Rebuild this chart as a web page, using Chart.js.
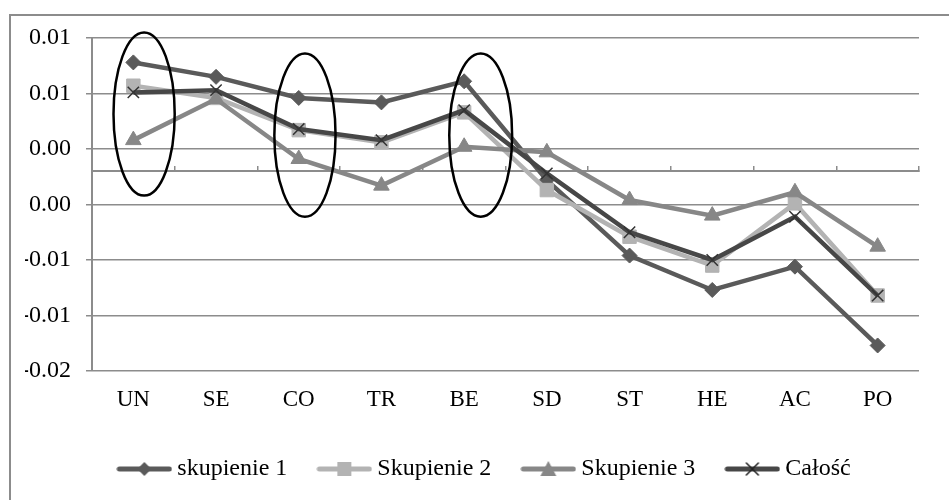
<!DOCTYPE html>
<html>
<head>
<meta charset="utf-8">
<script src="https://cdn.jsdelivr.net/npm/chart.js@4.4.1/dist/chart.umd.min.js"></script>
<style>
  body { margin: 0; overflow: hidden; background: #fff; }
  #frame { position: absolute; left: 9px; top: 14px; width: 960px; height: 500px;
           border-left: 2px solid #8c8c8c; border-top: 2px solid #8c8c8c; }
  #box { position: absolute; left: 0; top: 0; width: 938px; height: 484px; }
</style>
</head>
<body>
<div id="frame"><div id="box"><canvas id="line-chart"></canvas></div></div>
<script>
// data
var categories = ["UN", "SE", "CO", "TR", "BE", "SD", "ST", "HE", "AC", "PO"];
var skupienie1 = [0.0098, 0.0085, 0.0066, 0.0062, 0.0081, -0.0008, -0.0076, -0.0107, -0.0086, -0.0157];
var skupienie2 = [0.0077, 0.0066, 0.0037, 0.0026, 0.0053, -0.0017, -0.0059, -0.0085, -0.0029, -0.0112];
var skupienie3 = [0.0028, 0.0065, 0.0011, -0.0013, 0.0022, 0.0017, -0.0026, -0.0040, -0.0019, -0.0068];
var calosc     = [0.0071, 0.0073, 0.0038, 0.0028, 0.0055, -0.0002, -0.0055, -0.0080, -0.0041, -0.0112];
var seriesNames = ["skupienie 1", "Skupienie 2", "Skupienie 3", "Całość"];
// axis goes from bottom to top
var yTickLabels = ["-0.02", "-0.01", "-0.01", "0.00", "0.00", "0.01", "0.01"];

// hand drawn ovals (category index + y range)
var ellipses = [
  { at: 0, shift: 0.13, halfWidth: 0.37, top: 0.0125, bottom: -0.0022 },
  { at: 2, shift: 0.075, halfWidth: 0.37, top: 0.0106, bottom: -0.0041 },
  { at: 4, shift: 0.2, halfWidth: 0.38, top: 0.0106, bottom: -0.0041 }
];

var FONT = "'Liberation Serif', 'Times New Roman', serif";
var colors = ["#5a5a5a", "#b3b3b3", "#878787", "#474747"];
var styles = ["rectRot", "rect", "triangle", "crossRot"];
var radii = [7.5, 9.5, 9, 8];

function legendIcon(i){
  var c = document.createElement("canvas");
  c.width = 56; c.height = 20;
  var g = c.getContext("2d");
  g.strokeStyle = colors[i];
  g.lineWidth = 5;
  g.lineCap = "round";
  g.beginPath(); g.moveTo(3, 10); g.lineTo(53, 10); g.stroke();
  g.fillStyle = colors[i];
  if (i == 0) {
    g.beginPath(); g.moveTo(28, 3); g.lineTo(35, 10); g.lineTo(28, 17); g.lineTo(21, 10); g.closePath(); g.fill();
  } else if (i == 1) {
    g.fillRect(21, 3, 14, 14);
  } else if (i == 2) {
    g.beginPath(); g.moveTo(28, 2); g.lineTo(36, 17); g.lineTo(20, 17); g.closePath(); g.fill();
  } else {
    g.lineWidth = 1.5; g.strokeStyle = "#222";
    g.beginPath(); g.moveTo(22, 4); g.lineTo(34, 16); g.moveTo(34, 4); g.lineTo(22, 16); g.stroke();
  }
  return c;
}
var icons = [legendIcon(0), legendIcon(1), legendIcon(2), legendIcon(3)];

var ellipsePlugin = {
  id: "ellipses",
  afterDatasetsDraw: function(chart){
    var xs = chart.scales.x, ys = chart.scales.y, ctx = chart.ctx;
    ctx.save();
    ctx.strokeStyle = "#000";
    ctx.lineWidth = 2.5;
    for (var i = 0; i < ellipses.length; i++) {
      var e = ellipses[i];
      var cx = xs.getPixelForValue(e.at + e.shift);
      var rx = xs.getPixelForValue(e.at + e.shift + e.halfWidth) - cx;
      var t = ys.getPixelForValue(e.top), b = ys.getPixelForValue(e.bottom);
      ctx.beginPath();
      ctx.ellipse(cx, (t + b) / 2, rx, (b - t) / 2, 0, 0, Math.PI * 2);
      ctx.stroke();
    }
    ctx.restore();
  }
};

function makeSet(i, values){
  return {
    label: seriesNames[i],
    data: values,
    borderColor: colors[i],
    backgroundColor: colors[i],
    borderWidth: 4.5,
    pointStyle: styles[i],
    pointRadius: radii[i],
    pointHoverRadius: radii[i],
    pointBorderColor: i == 3 ? "#333" : colors[i],
    pointBorderWidth: i == 3 ? 1.5 : 1,
    order: 4 - i,
    fill: false,
    tension: 0
  };
}

new Chart(document.getElementById("line-chart"), {
  type: "line",
  data: {
    labels: categories,
    datasets: [makeSet(0, skupienie1), makeSet(1, skupienie2), makeSet(2, skupienie3), makeSet(3, calosc)]
  },
  plugins: [ellipsePlugin],
  options: {
    responsive: true,
    maintainAspectRatio: false,
    animation: false,
    // legend is centred between left and right padding, so the right gap comes from the x axis
    layout: { padding: { top: 22, right: 0, left: 14, bottom: 9 } },
    plugins: {
      tooltip: { enabled: false },
      legend: {
        position: "bottom",
        labels: {
          usePointStyle: true,
          pointStyleWidth: 42,
          padding: 36,
          color: "#000",
          font: { family: FONT, size: 24 },
          sort: function(a, b){ return a.datasetIndex - b.datasetIndex; },
          generateLabels: function(chart){
            var items = Chart.defaults.plugins.legend.labels.generateLabels(chart);
            items.forEach(function(it){ it.pointStyle = icons[it.datasetIndex]; });
            return items;
          }
        }
      }
    },
    scales: {
      x: {
        type: "category",
        offset: true,
        grid: { display: false, drawTicks: false },
        border: { display: false },
        ticks: { color: "#000", padding: 15, maxRotation: 0, font: { family: FONT, size: 23 } },
        afterFit: function(s){ s.height = 50; s.paddingRight = 30; s.paddingLeft = 0; }
      },
      x2: {
        type: "category",
        position: { y: 0 },
        offset: true,
        grid: { offset: true, drawOnChartArea: false, drawTicks: true, tickLength: -6, color: "#8c8c8c", lineWidth: 1.5 },
        border: { display: true, color: "#8c8c8c", width: 2 },
        ticks: { display: false }
      },
      y: {
        min: -0.018,
        max: 0.012,
        ticks: {
          stepSize: 0.005,
          color: "#000",
          padding: 15,
          font: { family: FONT, size: 24 },
          callback: function(v, i){ return yTickLabels[i]; }
        },
        grid: { color: "#8c8c8c", lineWidth: 1.5, tickLength: 6 },
        border: { display: true, color: "#8c8c8c", width: 2 },
        afterFit: function(s){ s.width = 67; s.paddingTop = 0; s.paddingBottom = 0; }
      }
    }
  }
});
</script>
</body>
</html>
